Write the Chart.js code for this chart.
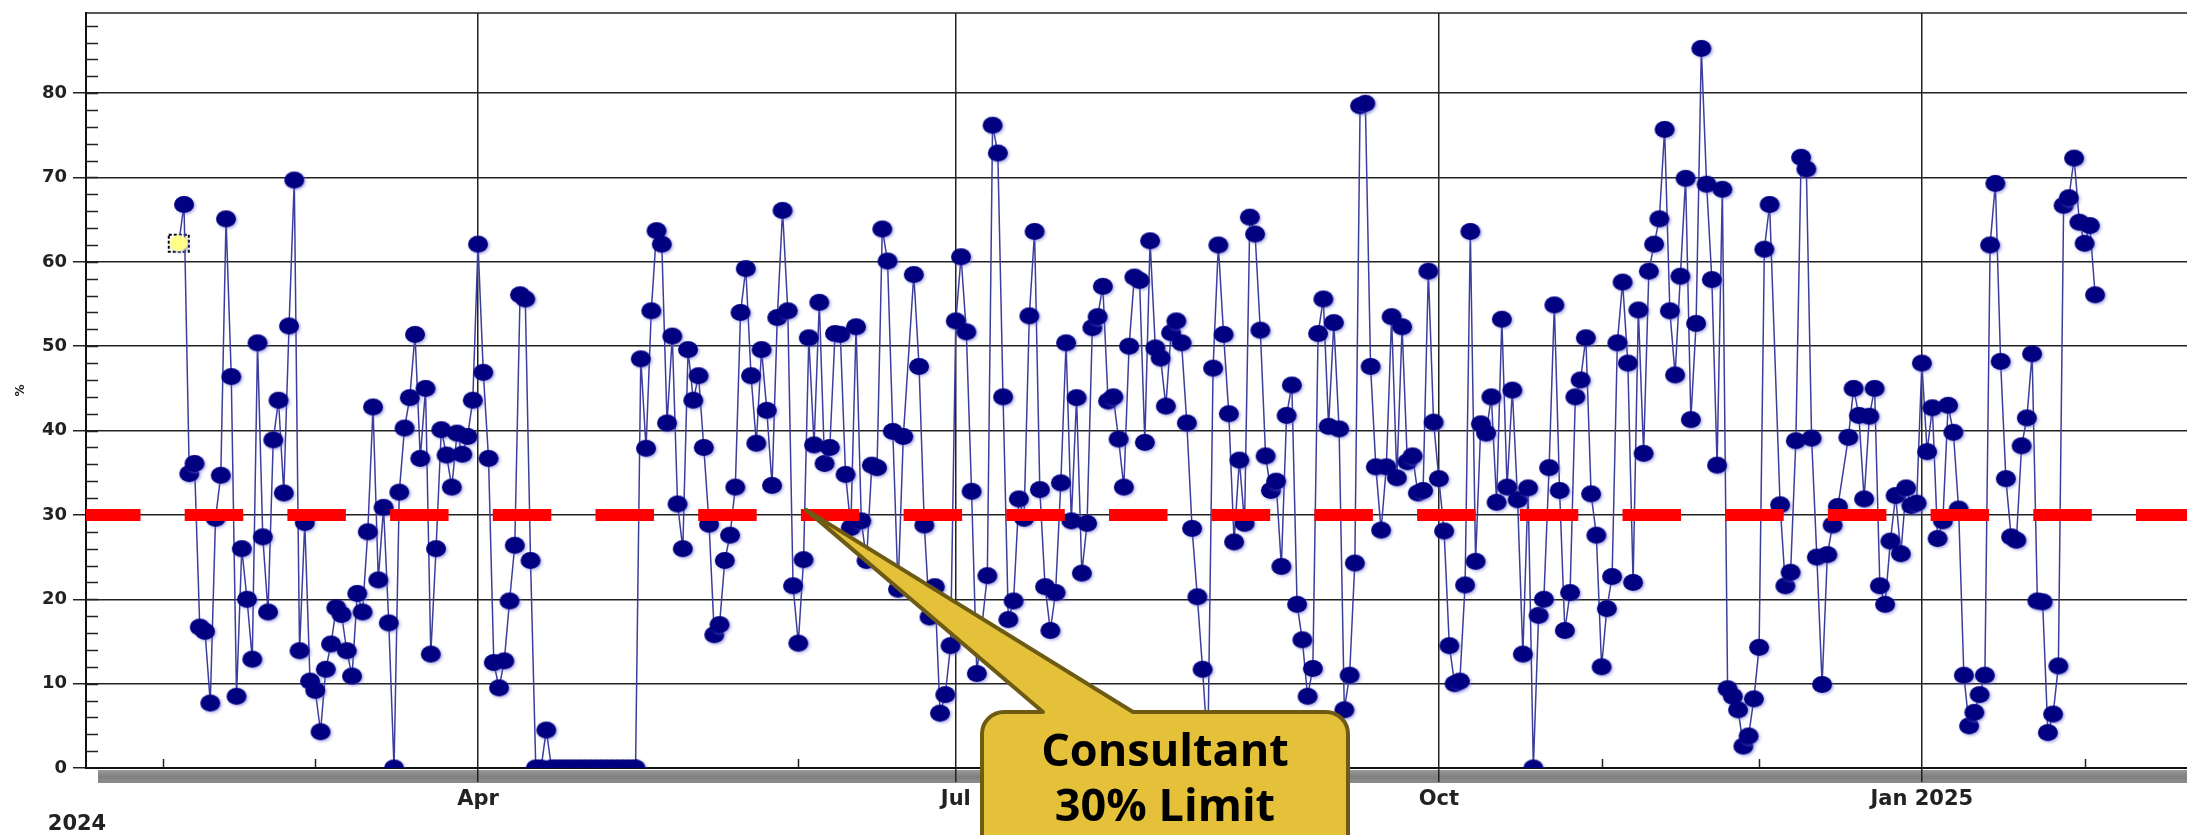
<!DOCTYPE html>
<html>
<head>
<meta charset="utf-8">
<script src="https://cdn.jsdelivr.net/npm/chart.js@4.4.1/dist/chart.umd.min.js"></script>
<style>
  html, body { margin: 0; padding: 0; background: #fff; overflow: hidden; }
  canvas { display: block; }
</style>
</head>
<body>
<canvas id="chartPct" width="2187" height="835"></canvas>
<script>
// Data: one reading per day starting at startDate (null = no reading found)
var startDate = '2024-02-04';
var dailyPct = [
  62.2, 66.8, 34.9, 36.1, 16.7, 16.2, 7.7, 29.6, 34.7, 65.1, 46.4, 8.5, 26.0, 20.0, 12.9, 50.4,
  27.4, 18.5, 38.9, 43.6, 32.6, 52.4, 69.7, 13.9, 29.1, 10.3, 9.2, 4.3, 11.7, 14.7, 19.0, 18.2,
  13.9, 10.9, 20.7, 18.5, 28.0, 42.8, 22.3, 30.9, 17.2, 0, 32.7, 40.3, 43.9, 51.4, 36.7, 45.0,
  13.5, 26.0, 40.1, 37.1, 33.3, 39.7, 37.2, 39.3, 43.6, 62.1, 46.9, 36.7, 12.5, 9.5, 12.7, 19.8,
  26.4, 56.1, 55.6, 24.6, 0, 0, 4.5, 0, 0, 0, 0, 0, 0, 0, 0, 0,
  0, 0, 0, 0, 0, 0, 0, 0, 48.5, 37.9, 54.2, 63.7, 62.1, 40.9, 51.2, 31.3,
  26.0, 49.6, 43.6, 46.5, 38.0, 28.9, 15.8, 17.0, 24.6, 27.6, 33.3, 54.0, 59.2, 46.5, 38.5, 49.6,
  42.4, 33.5, 53.4, 66.1, 54.2, 21.6, 14.8, 24.7, 51.0, 38.3, 55.2, 36.1, 38.0, 51.5, 51.4, 34.8,
  28.5, 52.3, 29.3, 24.6, 35.9, 35.6, 63.9, 60.1, 39.9, 21.2, 39.3, null, 58.5, 47.6, 28.8, 17.9,
  21.5, 6.5, 8.7, 14.5, 53.0, 60.6, 51.7, 32.8, 11.2, null, 22.8, 76.2, 72.9, 44.0, 17.6, 19.8,
  31.9, 29.6, 53.6, 63.6, 33.0, 21.5, 16.3, 20.8, 33.8, 50.4, 29.3, 43.9, 23.1, 29.0, 52.2, 53.5,
  57.1, 43.5, 44.0, 39.0, 33.3, 50.0, 58.2, 57.8, 38.6, 62.5, 49.8, 48.6, 42.9, 51.6, 53.0, 50.4,
  40.9, 28.4, 20.3, 11.7, 2, 47.4, 62.0, 51.4, 42.0, 26.8, 36.5, 29.0, 65.3, 63.3, 51.9, 37.0,
  32.9, 34.0, 23.9, 41.8, 45.4, 19.4, 15.2, 8.5, 11.8, 51.5, 55.6, 40.5, 52.8, 40.2, 6.9, 11.0,
  24.3, 78.5, 78.8, 47.6, 35.7, 28.2, 35.7, 53.5, 34.4, 52.3, 36.3, 37.0, 32.6, 32.9, 58.9, 41.0,
  34.3, 28.1, 14.5, 10.0, 10.3, 21.7, 63.6, 24.5, 40.8, 39.7, 44.0, 31.5, 53.2, 33.3, 44.8, 31.8,
  13.5, 33.2, 0, 18.1, 20.0, 35.6, 54.9, 32.9, 16.3, 20.8, 44.0, 46.0, 51.0, 32.5, 27.6, 12.0,
  18.9, 22.7, 50.4, 57.6, 48.0, 22.0, 54.3, 37.3, 58.9, 62.1, 65.1, 75.7, 54.2, 46.6, 58.3, 69.9,
  41.3, 52.7, 85.3, 69.2, 57.9, 35.9, 68.6, 9.4, 8.5, 6.9, 2.6, 3.8, 8.2, 14.3, 61.5, 66.8,
  null, 31.2, 21.6, 23.2, 38.8, 72.4, 71.0, 39.1, 25.0, 9.9, 25.3, 28.8, 31.0, null, 39.2, 45.0,
  41.8, 31.9, 41.7, 45.0, 21.6, 19.4, 26.9, 32.3, 25.4, 33.2, 31.1, 31.4, 48.0, 37.5, 42.7, 27.2,
  29.3, 43.0, 39.8, 30.7, 11.0, 5.0, 6.6, 8.7, 11.0, 62.0, 69.3, 48.2, 34.3, 27.4, 27.0, 38.2,
  41.5, 49.1, 19.8, 19.7, 4.2, 6.4, 12.1, 66.7, 67.6, 72.3, 64.7, 62.2, 64.3, 56.1
];
var limitPct = 30;

// Axis
var axisStart = '2024-01-17';
var axisEnd = '2025-02-20';
var quarterDates = ['2024-04-01', '2024-07-01', '2024-10-01', '2025-01-01'];
var quarterLabels = ['Apr', 'Jul', 'Oct', 'Jan 2025'];
var monthDates = ['2024-02-01', '2024-03-01', '2024-05-01', '2024-06-01', '2024-08-01',
                  '2024-09-01', '2024-11-01', '2024-12-01', '2025-02-01'];
var yearLabel = '2024';
var calloutLines = ['Consultant', '30% Limit'];
var calloutAt = ['2024-06-02', 30.6];

function dayNum(s) {
    var p = s.split('-');
    return (Date.UTC(+p[0], p[1] - 1, +p[2]) - Date.UTC(2024, 0, 1)) / 864e5;
}

var firstDay = dayNum(startDate);
var points = dailyPct.map(function (v, i) { return { x: firstDay + i, y: v }; });
var xMin = dayNum(axisStart) + 0.33;
var xMax = dayNum(axisEnd) + 0.5;
var quarterDays = quarterDates.map(dayNum);

// slightly flattened dots with a soft blue halo, like the original plot
function makeDot(fill, w, h) {
    var pad = 5;
    var cv = document.createElement('canvas');
    cv.width = w + pad * 2;
    cv.height = h + pad * 2;
    var g = cv.getContext('2d');
    g.shadowColor = 'rgba(110,110,220,0.55)';
    g.shadowBlur = 3;
    g.shadowOffsetX = 1.5;
    g.shadowOffsetY = 1.5;
    g.fillStyle = fill;
    g.beginPath();
    g.ellipse(cv.width / 2, cv.height / 2, w / 2, h / 2, 0, 0, Math.PI * 2);
    g.fill();
    return cv;
}
var navyDot = makeDot('#000080', 20, 17);
var yellowDot = makeDot('#ffff88', 18, 16);

Chart.defaults.font.family = "'DejaVu Sans', Verdana, sans-serif";

// Extra drawing: bar under the x axis, minor ticks, top border, year, selected point, callout
var decor = {
    id: 'decor',
    beforeDraw: function (chart) {
        var c = chart.ctx, a = chart.chartArea;
        c.save();
        var g = c.createLinearGradient(0, a.bottom + 2, 0, a.bottom + 15);
        g.addColorStop(0, '#9a9a9a');
        g.addColorStop(0.5, '#808080');
        g.addColorStop(1, '#8c8c8c');
        c.fillStyle = g;
        c.fillRect(a.left + 12, a.bottom + 2, a.right - a.left - 12, 13);
        c.fillStyle = '#222';
        c.font = "bold 21px 'DejaVu Sans'";
        c.textAlign = 'center';
        c.textBaseline = 'middle';
        c.fillText(yearLabel, a.left - 9, a.bottom + 57);
        c.restore();
    },
    beforeDatasetsDraw: function (chart) {
        var c = chart.ctx, a = chart.chartArea, xs = chart.scales.x, ys = chart.scales.y;
        c.save();
        c.strokeStyle = '#222';
        c.lineWidth = 1.5;
        c.beginPath();
        c.moveTo(a.left, a.top);
        c.lineTo(a.right, a.top);
        for (var v = 2; v < ys.max; v += 2) {
            var py = Math.round(ys.getPixelForValue(v)) + 0.5;
            c.moveTo(a.left, py);
            c.lineTo(a.left + 12, py);
        }
        monthDates.forEach(function (d) {
            var px = Math.round(xs.getPixelForValue(dayNum(d))) + 0.5;
            c.moveTo(px, a.bottom);
            c.lineTo(px, a.bottom - 9);
        });
        c.stroke();
        // selection box round the first reading
        var p0 = chart.getDatasetMeta(1).data[0];
        c.setLineDash([3, 2]);
        c.lineWidth = 2;
        c.strokeStyle = '#000';
        c.strokeRect(p0.x - 10, p0.y - 8.5, 20, 17);
        c.restore();
    },
    afterDraw: function (chart) {
        var c = chart.ctx, xs = chart.scales.x, ys = chart.scales.y;
        var tipX = xs.getPixelForValue(dayNum(calloutAt[0]) + 0.5);
        var tipY = ys.getPixelForValue(calloutAt[1]);
        var L = 982, T = 712, R = 1348, B = 895, r = 22, b1 = 1043, b2 = 1133;
        c.save();
        c.beginPath();
        c.moveTo(L + r, T);
        c.lineTo(b1, T);
        c.lineTo(tipX, tipY);
        c.lineTo(b2, T);
        c.lineTo(R - r, T);
        c.arcTo(R, T, R, T + r, r);
        c.lineTo(R, B - r);
        c.arcTo(R, B, R - r, B, r);
        c.lineTo(L + r, B);
        c.arcTo(L, B, L, B - r, r);
        c.lineTo(L, T + r);
        c.arcTo(L, T, L + r, T, r);
        c.closePath();
        c.fillStyle = '#e5c13a';
        c.fill();
        c.lineWidth = 4;
        c.lineJoin = 'round';
        c.strokeStyle = '#6d5b14';
        c.stroke();
        c.fillStyle = '#000';
        c.font = "bold 45px 'Open Sans'";
        c.textAlign = 'center';
        c.textBaseline = 'middle';
        c.fillText(calloutLines[0], (L + R) / 2, 753);
        c.fillText(calloutLines[1], (L + R) / 2, 808);
        c.restore();
    }
};

var canvas = document.getElementById('chartPct');
var ctx = canvas.getContext('2d');
var chart = new Chart(ctx, {
    type: 'line',
    data: {
        datasets: [{
            label: 'Consultant limit',
            data: [{ x: xMin, y: limitPct }, { x: xMax, y: limitPct }],
            borderColor: '#ff0000',
            borderWidth: 12,
            borderDash: [58.5, 44.2],
            borderDashOffset: 4,
            borderCapStyle: 'butt',
            pointRadius: 0,
            clip: 0,
            order: 0
        }, {
            label: '%',
            data: points,
            borderColor: '#3d3d9e',
            borderWidth: 1.5,
            pointRadius: 9,
            pointStyle: function (c) { return c.dataIndex === 0 ? yellowDot : navyDot; },
            spanGaps: true,
            clip: 0,
            order: 1
        }]
    },
    options: {
        responsive: false,
        animation: false,
        layout: { autoPadding: false, padding: { top: 13, left: 0, right: 0, bottom: 0 } },
        plugins: {
            legend: { display: false },
            tooltip: { enabled: false }
        },
        scales: {
            x: {
                type: 'linear',
                min: xMin,
                max: xMax,
                afterBuildTicks: function (scale) {
                    scale.ticks = quarterDays.map(function (d) { return { value: d }; });
                },
                afterFit: function (scale) {
                    scale.height = 67;
                    scale.paddingLeft = 0;
                    scale.paddingRight = 0;
                },
                ticks: {
                    autoSkip: false,
                    maxRotation: 0,
                    minRotation: 0,
                    padding: 5,
                    color: '#222',
                    font: { size: 21, weight: 'bold' },
                    callback: function (value) {
                        var i = quarterDays.indexOf(value);
                        return i >= 0 ? quarterLabels[i] : '';
                    }
                },
                grid: { color: '#222', lineWidth: 1.5, tickLength: 14 },
                border: { display: true, color: '#111', width: 2 }
            },
            y: {
                min: 0,
                max: 89.5,
                afterFit: function (scale) {
                    scale.width = 86;
                    scale.paddingTop = 0;
                    scale.paddingBottom = 0;
                },
                ticks: {
                    stepSize: 10,
                    includeBounds: false,
                    padding: 6,
                    color: '#222',
                    font: { size: 18, weight: 'bold' }
                },
                grid: { color: '#222', lineWidth: 1.5, tickLength: 13 },
                border: { display: true, color: '#111', width: 2 },
                title: {
                    display: true,
                    text: '%',
                    color: '#222',
                    font: { size: 12, weight: 'bold' },
                    padding: { top: 14, bottom: 0 }
                }
            }
        }
    },
    plugins: [decor]
});
</script>
</body>
</html>
